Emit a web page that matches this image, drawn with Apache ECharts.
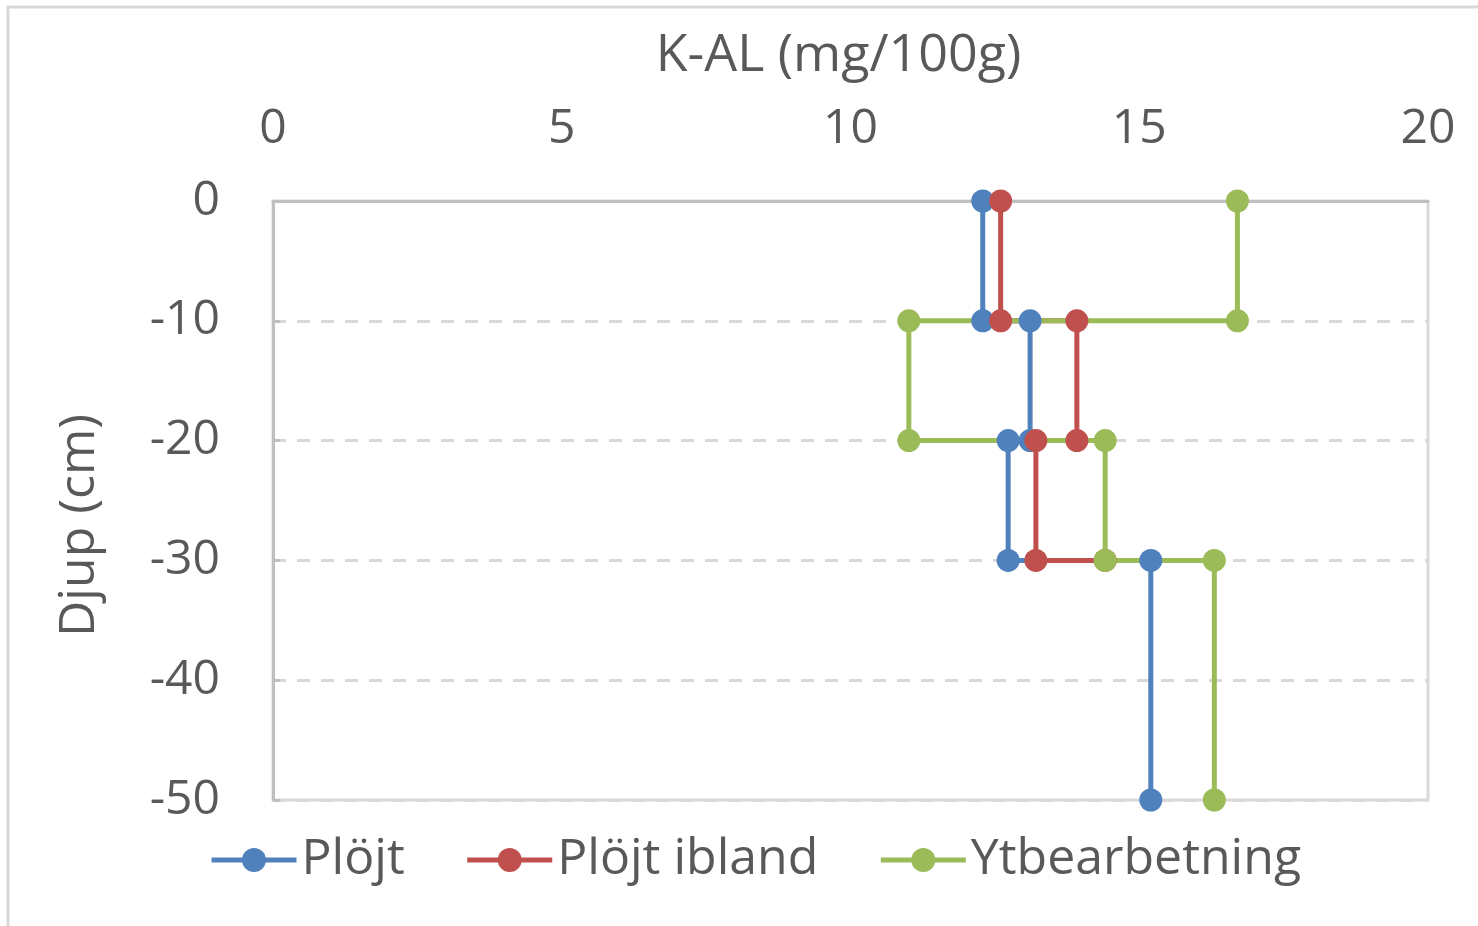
<!DOCTYPE html>
<html>
<head>
<meta charset="utf-8">
<script src="https://cdn.jsdelivr.net/npm/echarts@6/dist/echarts.min.js"></script>
<style>
    html, body { margin: 0; padding: 0; background: #fff; }
    #mainChart { width: 1478px; height: 926px; }
</style>
</head>
<body>
<div id="mainChart"></div>
<script>
// djup (cm) och K-AL (mg/100g) per led
const ploejtDepth = [0, -10, -10, -20, -20, -30, -30, -50]
const ploejtKAL = [12.29, 12.29, 13.11, 13.11, 12.73, 12.73, 15.20, 15.20]

const iblandDepth = [0, -10, -10, -20, -20, -30, -30]
const iblandKAL = [12.6, 12.6, 13.92, 13.92, 13.21, 13.21, 14.41]

const ytDepth = [0, -10, -10, -20, -20, -30, -30, -50]
const ytKAL = [16.70, 16.70, 11.01, 11.01, 14.41, 14.41, 16.30, 16.30]

const seriesNames = ['Plöjt', 'Plöjt ibland', 'Ytbearbetning']
const xTicks = [0, 5, 10, 15, 20]
const yTicks = [0, -10, -20, -30, -40, -50]

const pairs = (xs, ys) => xs.map((x, i) => [x, ys[i]])

const font = '"Open Sans", "Noto Sans", sans-serif'
const textColor = '#595959'

const mkSeries = (name, color, data) => ({
    name: name,
    type: 'line',
    data: data,
    symbol: 'circle',
    symbolSize: 23,
    lineStyle: { width: 5, color: color },
    itemStyle: { color: color },
    animation: false
})

var myChart = echarts.init(document.getElementById('mainChart'))

var option = {
    backgroundColor: '#fff',
    textStyle: { fontFamily: font },
    graphic: [{
        type: 'rect',
        shape: { x: 8, y: 7, width: 1520, height: 1000 },
        style: { fill: 'none', stroke: '#D9D9D9', lineWidth: 3 },
        z: -10
    }],
    grid: {
        left: 273, right: 50, top: 201, bottom: 126,
        show: true,
        borderColor: '#D9D9D9',
        borderWidth: 3
    },
    legend: {
        left: 204,
        top: 830,
        itemWidth: 85,
        itemHeight: 30,
        itemGap: 60,
        data: seriesNames,
        lineStyle: { width: 5 },
        textStyle: { fontFamily: font, fontSize: 50, color: textColor }
    },
    xAxis: {
        type: 'value',
        position: 'top',
        min: xTicks[0],
        max: xTicks[xTicks.length - 1],
        interval: 5,
        name: 'K-AL (mg/100g)',
        nameLocation: 'middle',
        nameGap: 119,
        nameTextStyle: { fontFamily: font, fontSize: 52, color: textColor, padding: [0, 24, 0, 0] },
        axisLine: { show: true, lineStyle: { color: '#BFBFBF', width: 3 } },
        axisTick: { show: false },
        axisLabel: { fontFamily: font, fontSize: 48, color: textColor, margin: 48 },
        splitLine: { show: false }
    },
    yAxis: {
        type: 'value',
        min: yTicks[yTicks.length - 1],
        max: yTicks[0],
        interval: 10,
        name: 'Djup (cm)',
        nameLocation: 'middle',
        nameGap: 168,
        nameTextStyle: { fontFamily: font, fontSize: 50, color: textColor, padding: [0, 50, 0, 0] },
        axisLine: { show: true, lineStyle: { color: '#BFBFBF', width: 3 } },
        axisTick: { show: true, inside: true, length: 7, lineStyle: { color: '#BFBFBF', width: 3 } },
        axisLabel: { fontFamily: font, fontSize: 48, color: textColor, margin: 53 },
        splitLine: { show: true, lineStyle: { color: '#D9D9D9', width: 3, type: [13, 11] } }
    },
    series: [
        mkSeries(seriesNames[0], '#4F81BD', pairs(ploejtKAL, ploejtDepth)),
        mkSeries(seriesNames[1], '#C0504D', pairs(iblandKAL, iblandDepth)),
        mkSeries(seriesNames[2], '#9BBB59', pairs(ytKAL, ytDepth))
    ]
}

myChart.setOption(option)
</script>
</body>
</html>
